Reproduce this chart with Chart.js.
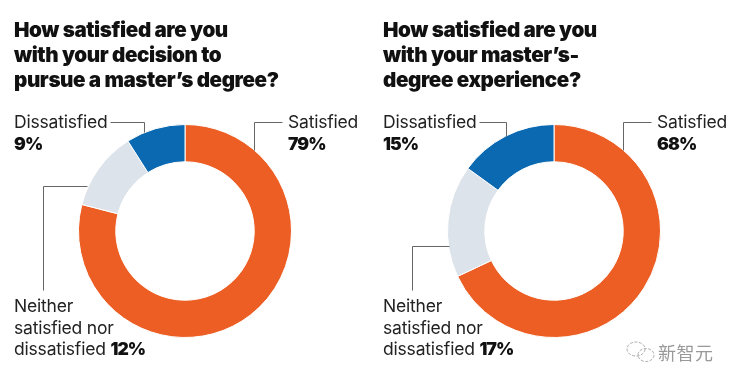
<!DOCTYPE html>
<html>
<head>
<meta charset="utf-8">
<script src="https://cdn.jsdelivr.net/npm/chart.js@4/dist/chart.umd.min.js"></script>
<style>
  html, body { margin: 0; padding: 0; background: #fff; }
  #page { position: relative; width: 736px; height: 383px; overflow: hidden; font-family: Inter, "Noto Sans", sans-serif; color: #111; }
  canvas { position: absolute; top: 0; }
  .title { position: absolute; top: 17px; font-size: 20.6px; font-weight: 900; line-height: 25px; letter-spacing: -0.4px; white-space: pre; }
  .lbl { position: absolute; font-size: 17.5px; line-height: 21.5px; letter-spacing: -0.2px; white-space: pre; color: #222; }
  .lbl b { font-weight: 900; color: #111; letter-spacing: -0.9px; }
  #mark { position: absolute; left: 658px; top: 339px; font: 18px "Noto Sans CJK SC", sans-serif; color: #999; letter-spacing: 0.5px; }
  #wechat { position: absolute; left: 625px; top: 340px; }
</style>
</head>
<body>
<div id="page">
  <canvas id="chartLeft" width="368" height="383" style="left:0"></canvas>
  <canvas id="chartRight" width="368" height="383" style="left:368px"></canvas>
  <svg id="wechat" width="32" height="24" fill="none" stroke="#aaa" stroke-width="1" stroke-dasharray="3 1.5">
    <ellipse cx="11" cy="9" rx="9" ry="7"/>
    <ellipse cx="21" cy="15" rx="8" ry="6.5"/>
  </svg>
  <div id="mark">新智元</div>
</div>
<script>
const categories = ['Satisfied', 'Neither satisfied nor dissatisfied', 'Dissatisfied'];
const decisionValues = [79, 12, 9];
const experienceValues = [68, 17, 15];
const sliceColors = ['#EC5E23', '#DDE3EA', '#0B69B2'];

const decisionTitle = 'How satisfied are you\nwith your decision to\npursue a master\u2019s degree?';
const experienceTitle = 'How satisfied are you\nwith your master\u2019s-\ndegree experience?';

// leader lines, page coords relative to each canvas
const decisionLeaders = [
    [[254, 150], [254, 122], [282, 122]],
    [[110, 122], [144, 122], [144, 132]],
    [[87, 186], [43, 186], [43, 290]]
];
const experienceLeaders = [
    [[255, 150], [255, 122], [283, 122]],
    [[111, 122], [138, 122], [138, 136]],
    [[81, 246], [44, 246], [44, 290]]
];

const leaderPlugin = {
    id: 'leaders',
    afterDraw(chart, args, opts) {
        let ctx = chart.ctx;
        ctx.save();
        ctx.strokeStyle = '#666';
        ctx.lineWidth = 1;
        opts.lines.forEach(line => {
            ctx.beginPath();
            line.forEach((p, i) => {
                if (i === 0) ctx.moveTo(p[0] + 0.5, p[1] + 0.5);
                else ctx.lineTo(p[0] + 0.5, p[1] + 0.5);
            });
            ctx.stroke();
        });
        ctx.restore();
    }
};

function makeDonut(id, values, lines, padLeft, padRight) {
    return new Chart(document.getElementById(id).getContext('2d'), {
        type: 'doughnut',
        data: {
            labels: categories,
            datasets: [{
                data: values,
                backgroundColor: sliceColors,
                borderColor: '#fff',
                borderWidth: 1
            }]
        },
        options: {
            responsive: false,
            animation: false,
            cutout: '65%',
            layout: { padding: { left: padLeft, right: padRight, top: 124, bottom: 45 } },
            plugins: {
                legend: { display: false },
                tooltip: { enabled: false },
                leaders: { lines: lines }
            }
        },
        plugins: [leaderPlugin]
    });
}

makeDonut('chartLeft', decisionValues, decisionLeaders, 78, 76);
makeDonut('chartRight', experienceValues, experienceLeaders, 79, 75);

function addText(cls, left, top, html) {
    let el = document.createElement('div');
    el.className = cls;
    el.style.left = left + 'px';
    if (top !== null) el.style.top = top + 'px';
    el.innerHTML = html;
    document.getElementById('page').appendChild(el);
}

function addPanelText(x, title, values) {
    addText('title', x, 17, title);
    addText('lbl', x + 274, 111, categories[0] + '\n<b>' + values[0] + '%</b>');
    addText('lbl', x, 111, categories[2] + '\n<b>' + values[2] + '%</b>');
    addText('lbl', x, 295, 'Neither\nsatisfied nor\ndissatisfied <b>' + values[1] + '%</b>');
}

addPanelText(14, decisionTitle, decisionValues);
addPanelText(383, experienceTitle, experienceValues);
</script>
</body>
</html>
